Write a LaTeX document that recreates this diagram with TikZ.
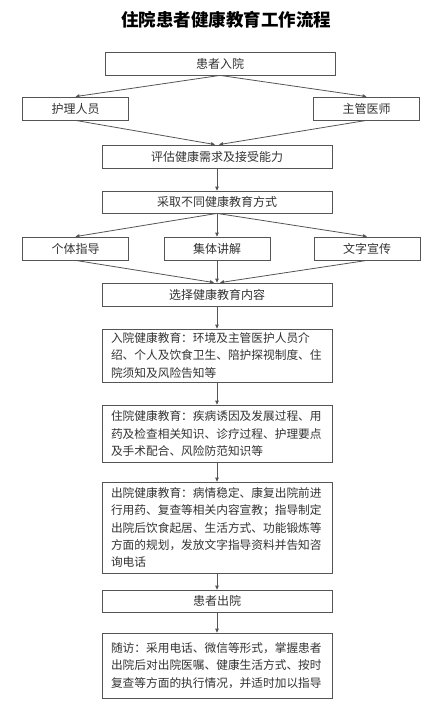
\documentclass[tikz,border=0pt]{standalone}
\usepackage{fontspec}
\newfontfamily\cjk{Noto Sans CJK SC}
\usepackage{tikz}
\usetikzlibrary{positioning,arrows.meta}
\definecolor{lineg}{HTML}{555555}
\definecolor{textg}{HTML}{333333}
\tikzset{
  flow/.style={-{Triangle[length=4pt,width=3.6pt]},line width=0.8pt,lineg},
  box/.style={draw=lineg,line width=0.8pt,fill=white,inner sep=0pt,
    minimum height=23pt,font=\cjk\fontsize{12}{14}\selectfont,text=textg},
  widebox/.style={box,minimum width=230pt},
  sidebox/.style={box,minimum width=106pt},
  txtbox/.style={box,text width=212pt,inner xsep=9pt,align=left,
    font=\cjk\fontsize{11.7}{17.2}\selectfont},
}
\begin{document}
\begin{tikzpicture}[x=1pt,y=-1pt]
  \useasboundingbox (0,0) rectangle (447,714);
  \node[font=\cjk\bfseries\fontsize{17.5}{20}\selectfont] (title) at (226,20) {住院患者健康教育工作流程};
  % top part
  \node[widebox] (admit) at (220,63.5) {患者入院};
  \node[sidebox] (nurse) at (75.5,108.5) {护理人员};
  \node[sidebox] (doctor) at (366.5,108.5) {主管医师};
  \node[widebox] (assess) at (217,156.5) {评估健康需求及接受能力};
  \node[widebox,minimum height=22pt] (method) at (217,202) {采取不同健康教育方式};
  \node[sidebox] (indiv) at (75.5,248.5) {个体指导};
  \node[sidebox] (group) at (217,248.5) {集体讲解};
  \node[sidebox] (leaflet) at (367,248.5) {文字宣传};
  \node[widebox] (select) at (217,294.5) {选择健康教育内容};
  % content boxes
  \node[txtbox,minimum height=53pt] (inedu) at (217,355.5)
    {入院健康教育：环境及主管医护人员介\\绍、个人及饮食卫生、陪护探视制度、住\\院须知及风险告知等};
  \node[txtbox,minimum height=57pt] (stayedu) at (217,433.5)
    {住院健康教育：疾病诱因及发展过程、用\\药及检查相关知识、诊疗过程、护理要点\\及手术配合、风险防范知识等};
  \node[txtbox,minimum height=91pt] (outedu) at (217,527.5)
    {出院健康教育：病情稳定、康复出院前进\\行用药、复查等相关内容宣教；指导制定\\出院后饮食起居、生活方式、功能锻炼等\\方面的规划，发放文字指导资料并告知咨\\询电话};
  \node[widebox,minimum height=22pt] (leave) at (217,601) {患者出院};
  \node[txtbox,minimum height=65pt] (follow) at (217,665.5)
    {随访：采用电话、微信等形式，掌握患者\\出院后对出院医嘱、健康生活方式、按时\\复查等方面的执行情况，并适时加以指导};
  % connectors
  \draw[flow] (admit.south) -- (nurse.north);
  \draw[flow] (admit.south) -- (doctor.north);
  \draw[flow] (nurse.south) -- ([xshift=-2pt]assess.north);
  \draw[flow] (doctor.south) -- ([xshift=2pt]assess.north);
  \draw[flow] (assess) -- (method);
  \draw[flow] (method.south) -- (indiv.north);
  \draw[flow] (method.south) -- (group.north);
  \draw[flow] (method.south) -- (leaflet.north);
  \draw[flow] (indiv.south) -- ([xshift=-3pt]select.north);
  \draw[flow] (group) -- (select);
  \draw[flow] (leaflet.south) -- ([xshift=3pt]select.north);
  \draw[flow] (select) -- (inedu);
  \draw[flow] (inedu) -- (stayedu);
  \draw[flow] (stayedu) -- (outedu);
  \draw[flow] (outedu) -- (leave);
  \draw[flow] (leave) -- (follow);
\end{tikzpicture}
\end{document}
